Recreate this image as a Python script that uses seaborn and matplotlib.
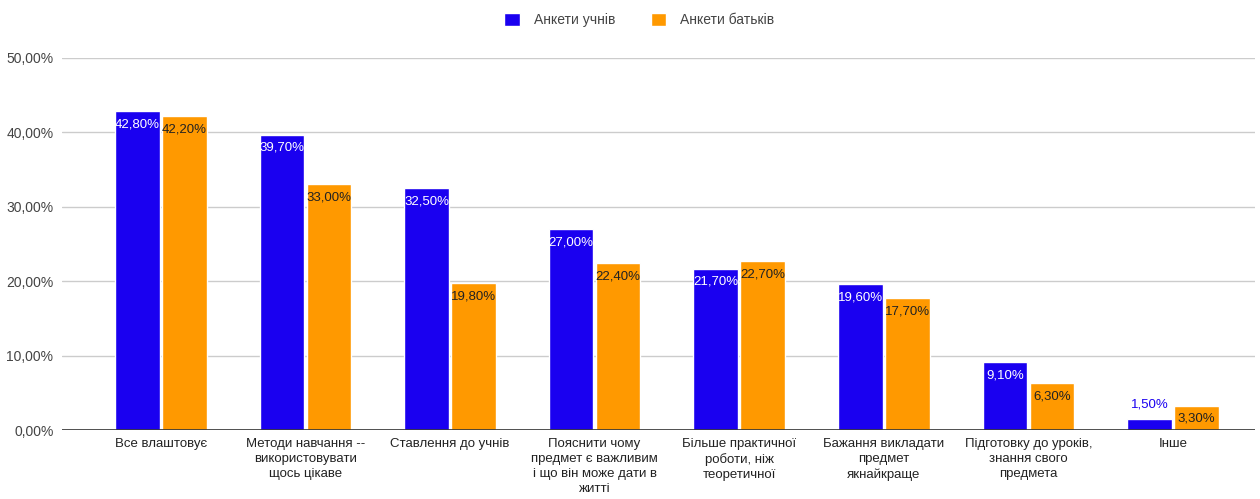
import pandas as pd
import matplotlib.pyplot as plt
import seaborn as sns
from matplotlib.ticker import FuncFormatter

categories = [
    'Все влаштовує',
    'Методи навчання --\nвикористовувати\nщось цікаве',
    'Ставлення до учнів',
    'Пояснити чому\nпредмет є важливим\nі що він може дати в\nжитті',
    'Більше практичної\nроботи, ніж\nтеоретичної',
    'Бажання викладати\nпредмет\nякнайкраще',
    'Підготовку до уроків,\nзнання свого\nпредмета',
    'Інше',
]
students = [42.8, 39.7, 32.5, 27.0, 21.7, 19.6, 9.1, 1.5]
parents = [42.2, 33.0, 19.8, 22.4, 22.7, 17.7, 6.3, 3.3]
series = ['Анкети учнів', 'Анкети батьків']
colors = ['#1a00f0', '#ff9900']

df = pd.DataFrame({
    'cat': categories * 2,
    'value': students + parents,
    'series': [series[0]] * len(categories) + [series[1]] * len(categories),
})

sns.set_style('white')
plt.rcParams['font.family'] = ['Liberation Sans', 'DejaVu Sans']

fig = plt.figure(figsize=(12.6, 4.99), dpi=100)
ax = fig.add_axes([0.049, 0.138, 0.947, 0.746])

sns.barplot(data=df, x='cat', y='value', hue='series', palette=colors,
            width=0.65, gap=0.05, saturation=1, ax=ax, legend=True, zorder=3)

ax.set_ylim(0, 50)
ax.set_xlim(-0.685, 7.567)
ax.set_yticks([0, 10, 20, 30, 40, 50])
ax.yaxis.set_major_formatter(FuncFormatter(lambda v, p: f'{v:.2f}%'.replace('.', ',')))
ax.grid(axis='y', color='#cccccc', linewidth=1, zorder=0)
ax.axhline(0, color='#333333', linewidth=1.2, zorder=4)
for s in ax.spines.values():
    s.set_visible(False)
ax.tick_params(axis='y', length=0, labelsize=10, labelcolor='#444444', pad=6)
ax.tick_params(axis='x', length=0, labelsize=9.5, labelcolor='#222222', pad=6)
for lbl in ax.get_xticklabels():
    lbl.set_linespacing(1.3)
ax.set_xlabel('')
ax.set_ylabel('')

# value labels
for container, txtcol in zip(ax.containers, ['white', '#222222']):
    for bar in container:
        h = bar.get_height()
        x = bar.get_x() + bar.get_width() / 2
        label = f'{h:.2f}%'.replace('.', ',')
        if h < 2.5:
            ax.text(x, h + 1.2, label, ha='center', va='bottom', fontsize=9.5,
                    color=bar.get_facecolor(), zorder=5)
        else:
            ax.text(x, h - 1.8, label, ha='center', va='center', fontsize=9.5,
                    color=txtcol, zorder=5)

leg = ax.legend(loc='center', bbox_to_anchor=(0.5075, 0.96), bbox_transform=fig.transFigure,
                ncol=2, frameon=False, fontsize=10, handlelength=1.1, handleheight=1.1,
                columnspacing=2.6, handletextpad=1.0)
for t in leg.get_texts():
    t.set_color('#444444')

fig.savefig('out.png', dpi=100)
